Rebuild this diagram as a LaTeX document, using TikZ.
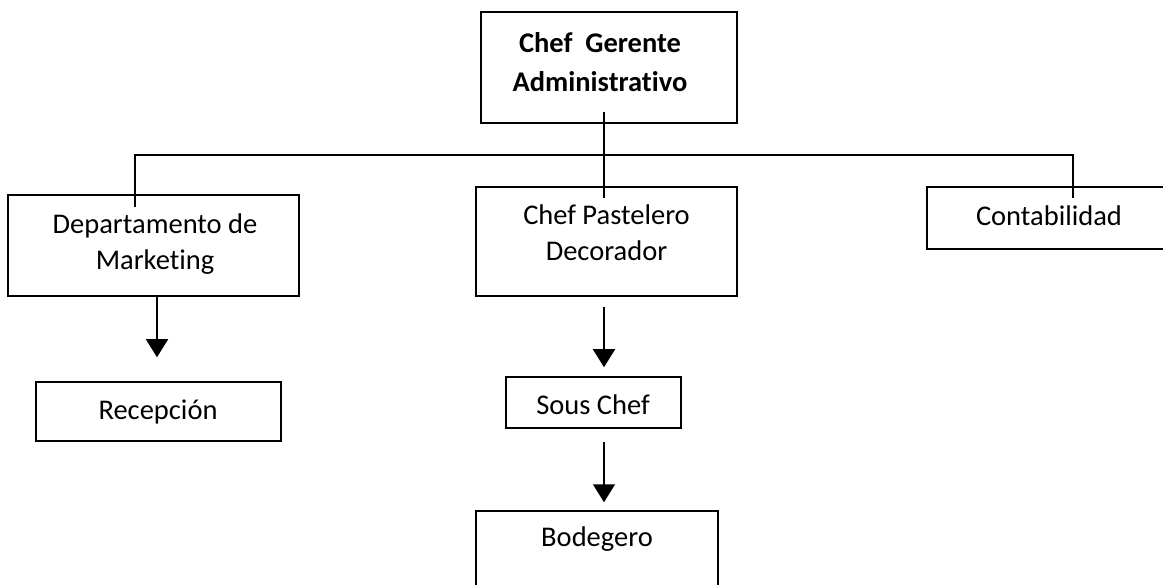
\documentclass[tikz,border=0pt]{standalone}
\usepackage{fontspec}
\setmainfont{Carlito}[Ligatures=NoCommon]
\usetikzlibrary{arrows.meta}
\begin{document}
\begin{tikzpicture}[x=1pt,y=-1pt,
  box/.style={draw, line width=1.5pt, inner sep=0pt, rectangle},
  lbl/.style={font=\fontsize{28.5}{36}\selectfont, align=center, inner sep=0pt},
  lblb/.style={font=\fontsize{28.5}{39}\selectfont\bfseries, align=center, inner sep=0pt},
  conn/.style={line width=1.5pt},
  arr/.style={line width=1.5pt, -{Triangle[width=22pt,length=18pt]}}]
\useasboundingbox (0,0) rectangle (1163,585);
\fill[white] (0,0) rectangle (1163,585);
\clip (0,0) rectangle (1163,585);
% boxes
\node[box, minimum width=256pt, minimum height=111pt] (top) at (609,67.5) {};
\node[box, minimum width=291pt, minimum height=101pt] (mkt) at (153.5,245.5) {};
\node[box, minimum width=261pt, minimum height=109pt] (pas) at (606.5,241.5) {};
\node[box, minimum width=273pt, minimum height=62pt] (con) at (1063.5,218) {};
\node[box, minimum width=245pt, minimum height=59pt] (rec) at (158.5,411.5) {};
\node[box, minimum width=175pt, minimum height=51pt] (sous) at (593.5,402.5) {};
\node[box, minimum width=242pt, minimum height=119pt] (bod) at (597,570.5) {};
% texts
\node[lblb] (toptext) at (600,62) {Chef\hspace{0.45em}Gerente\\Administrativo};
\node[lbl] (mkttext) at (155,244) {Departamento de\\Marketing};
\node[lbl] (pastext) at (606.5,233) {Chef Pastelero\\Decorador};
\node[lbl] (context) at (1049,216) {Contabilidad};
\node[lbl] (rectext) at (158,412) {Recepción};
\node[lbl] (soustext) at (593,405) {Sous Chef};
\node[lbl] (bodtext) at (597,539) {Bodegero};
% connectors
\coordinate (barL) at (135,155);
\coordinate (barR) at (1073,155);
\draw[conn] ([xshift=-5pt,yshift=12pt]top.south) -- ([xshift=-2.5pt,yshift=-12pt]pas.north);
\draw[conn] ([xshift=-18.5pt,yshift=-13pt]mkt.north) -- (barL) -- (barR) -- ([xshift=9.5pt,yshift=-12pt]con.north);
\draw[arr] ([xshift=3.5pt]mkt.south) -- ([xshift=-1.5pt,yshift=24pt]rec.north);
\draw[arr] ([xshift=-2.5pt,yshift=-10pt]pas.south) -- ([xshift=10.5pt,yshift=9pt]sous.north);
\draw[arr] ([xshift=10.5pt,yshift=-13pt]sous.south) -- ([xshift=7pt,yshift=8pt]bod.north);
\end{tikzpicture}
\end{document}
